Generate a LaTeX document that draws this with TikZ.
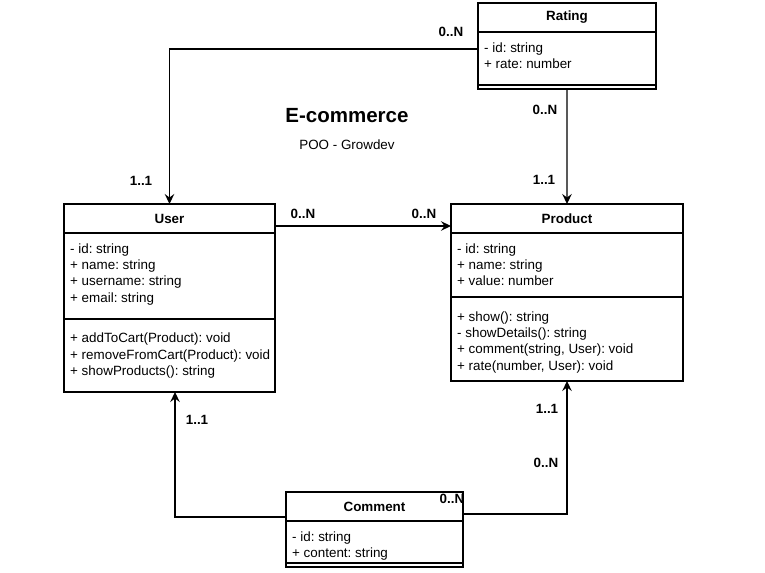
\documentclass[tikz,border=0pt]{standalone}
\usepackage{fontspec}
\setmainfont{Liberation Sans}
\usetikzlibrary{arrows.meta}

\tikzset{
  classhead/.style={draw, line width=1.1bp, inner sep=0pt, outer sep=0pt, minimum height=29bp, font=\bfseries\fontsize{13.4bp}{16bp}\selectfont},
  compart/.style={draw, line width=1.1bp, inner sep=0pt, outer sep=0pt, anchor=north},
  member/.style={anchor=north west, align=left, inner xsep=6bp, inner ysep=10.5bp, font=\fontsize{13.4bp}{16.2bp}\selectfont},
  mult/.style={inner sep=0pt, font=\bfseries\fontsize{13.4bp}{16bp}\selectfont},
  assoc/.style={-{Stealth[length=10bp, width=9.5bp, inset=3.5bp]}, line width=1.2bp}
}

\begin{document}
\frenchspacing
\begin{tikzpicture}[x=1bp, y=-1bp]
  \useasboundingbox (0, 0) rectangle (765, 573);

  % title
  \node[font=\bfseries\fontsize{20.5bp}{24bp}\selectfont] (title) at (347, 116) {E-commerce};
  \node[font=\fontsize{13.4bp}{16bp}\selectfont] (subtitle) at (347, 145) {POO - Growdev};

  % Rating
  \node[classhead, minimum width=178bp, anchor=north west] (rating) at (478, 3) {Rating};
  \node[compart, minimum width=178bp, minimum height=53bp] (rating attrs) at (rating.south) {};
  \node[compart, minimum width=178bp, minimum height=4bp] (rating ops) at (rating attrs.south) {};
  \node[member] at (rating attrs.north west) {- id: string\\+ rate: number};

  % User
  \node[classhead, minimum width=211bp, anchor=north west] (user) at (64, 204) {User};
  \node[compart, minimum width=211bp, minimum height=86bp] (user attrs) at (user.south) {};
  \node[compart, minimum width=211bp, minimum height=73bp] (user ops) at (user attrs.south) {};
  \node[member] at (user attrs.north west) {- id: string\\+ name: string\\+ username: string\\+ email: string};
  \node[member, yshift=-3.5bp] at (user ops.north west) {+ addToCart(Product): void\\+ removeFromCart(Product): void\\+ showProducts(): string};

  % Product
  \node[classhead, minimum width=232bp, anchor=north west] (product) at (451, 204) {Product};
  \node[compart, minimum width=232bp, minimum height=64bp] (product attrs) at (product.south) {};
  \node[compart, minimum width=232bp, minimum height=84bp] (product ops) at (product attrs.south) {};
  \node[member] at (product attrs.north west) {- id: string\\+ name: string\\+ value: number};
  \node[member, yshift=-4bp] at (product ops.north west) {+ show(): string\\- showDetails(): string\\+ comment(string, User): void\\+ rate(number, User): void};

  % Comment
  \node[classhead, minimum width=177bp, anchor=north west] (comment) at (286, 492) {Comment};
  \node[compart, minimum width=177bp, minimum height=42bp] (comment attrs) at (comment.south) {};
  \node[compart, minimum width=177bp, minimum height=4bp] (comment ops) at (comment attrs.south) {};
  \node[member] at (comment attrs.north west) {- id: string\\+ content: string};

  % associations
  \draw[assoc] ([yshift=-17bp]rating attrs.north west) -| (user.north);
  \draw[assoc] (rating ops.south) -- (product.north);
  \draw[assoc] ([yshift=-7.5bp]user.east) -- ([yshift=-7.5bp]product.west);
  \draw[assoc] ([yshift=-10.5bp]comment.west) -| ([xshift=5.5bp]user ops.south);
  \draw[assoc] ([yshift=-7.5bp]comment.east) -| (product ops.south);

  % multiplicities
  \node[mult] (m rating user) at (451, 32) {0..N};
  \node[mult] (m user rating) at (141, 181) {1..1};
  \node[mult] (m rating product) at (545, 110) {0..N};
  \node[mult] (m product rating) at (544, 180) {1..1};
  \node[mult] (m user product) at (303, 214) {0..N};
  \node[mult] (m product user) at (424, 214) {0..N};
  \node[mult] (m user comment) at (197, 420) {1..1};
  \node[mult] (m comment) at (452, 499) {0..N};
  \node[mult] (m product comment) at (547, 409) {1..1};
  \node[mult] (m comment product) at (546, 463) {0..N};
\end{tikzpicture}
\end{document}
